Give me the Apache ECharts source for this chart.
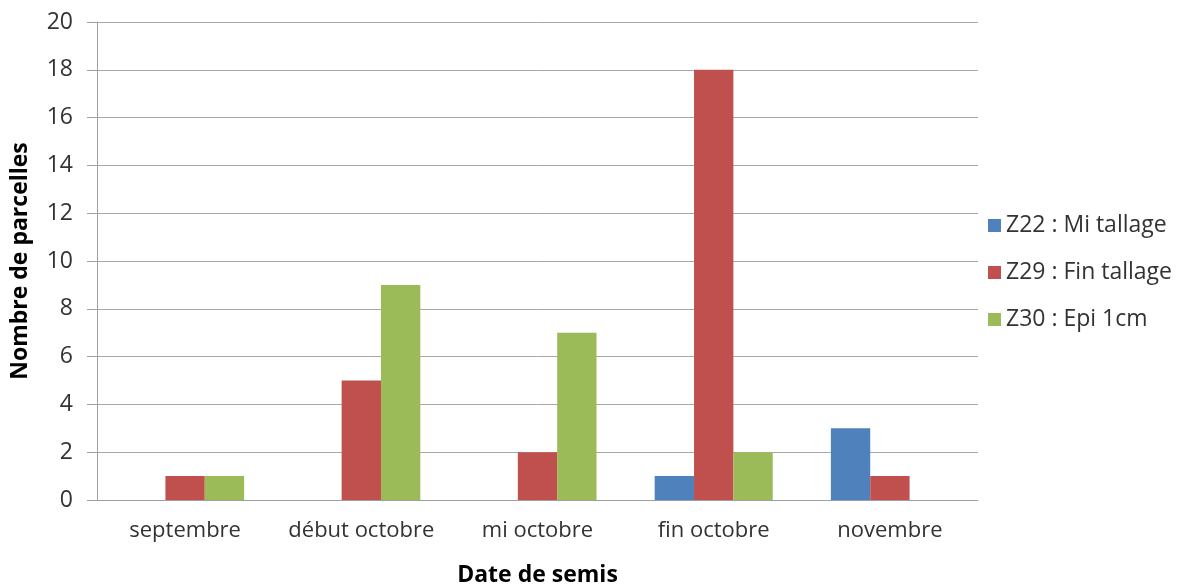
<!DOCTYPE html>
<html>
<head>
<meta charset="utf-8">
<script src="https://cdn.jsdelivr.net/npm/echarts@6/dist/echarts.min.js"></script>
<style>
  html, body { margin: 0; padding: 0; background: #fff; }
  #chart { width: 1178px; height: 585px; }
</style>
</head>
<body>
<div id="chart"></div>
<script>
const categories = ["septembre", "début octobre", "mi octobre", "fin octobre", "novembre"];
const z22 = [0, 0, 0, 1, 3];
const z29 = [1, 5, 2, 18, 1];
const z30 = [1, 9, 7, 2, 0];
const seriesNames = ["Z22 : Mi tallage", "Z29 : Fin tallage", "Z30 : Epi 1cm"];
const colors = ["#4f81bd", "#c0504d", "#9bbb59"];

const font = "Open Sans";
const chart = echarts.init(document.getElementById("chart"));

// zero values are not drawn, like in the original
const clean = arr => arr.map(v => (v === 0 ? null : v));

chart.setOption({
  animation: false,
  color: colors,
  textStyle: { fontFamily: font },
  grid: { left: 97, right: 200, top: 22, bottom: 85, outerBoundsMode: "none" },
  legend: {
    orient: "vertical",
    left: 983,
    top: 209,
    itemWidth: 13,
    itemHeight: 13,
    itemGap: 24,
    icon: "rect",
    textStyle: { fontSize: 23, color: "#333", fontFamily: font },
    data: seriesNames
  },
  xAxis: {
    type: "category",
    data: categories,
    name: "Date de semis",
    nameLocation: "middle",
    nameGap: 64,
    nameTextStyle: { fontSize: 23, fontWeight: "bold", color: "#000", fontFamily: font },
    axisLine: { lineStyle: { color: "#a0a0a0" } },
    axisTick: { show: false },
    axisLabel: { fontSize: 22, color: "#333", margin: 20, interval: 0, hideOverlap: false }
  },
  yAxis: {
    type: "value",
    min: 0,
    max: 20,
    interval: 2,
    name: "Nombre de parcelles",
    nameLocation: "middle",
    nameGap: 65,
    nameTextStyle: { fontSize: 23, fontWeight: "bold", color: "#000", fontFamily: font },
    axisLine: { show: true, lineStyle: { color: "#a0a0a0" } },
    axisTick: { show: true, length: 10, lineStyle: { color: "#a0a0a0" } },
    axisLabel: { fontSize: 23, color: "#333", margin: 24 },
    splitLine: { lineStyle: { color: "#a8a8a8" } }
  },
  series: [
    { name: seriesNames[0], type: "bar", data: clean(z22), barGap: "0%", barCategoryGap: "33%" },
    { name: seriesNames[1], type: "bar", data: clean(z29), barGap: "0%", barCategoryGap: "33%" },
    { name: seriesNames[2], type: "bar", data: clean(z30), barGap: "0%", barCategoryGap: "33%" }
  ]
});
</script>
</body>
</html>
